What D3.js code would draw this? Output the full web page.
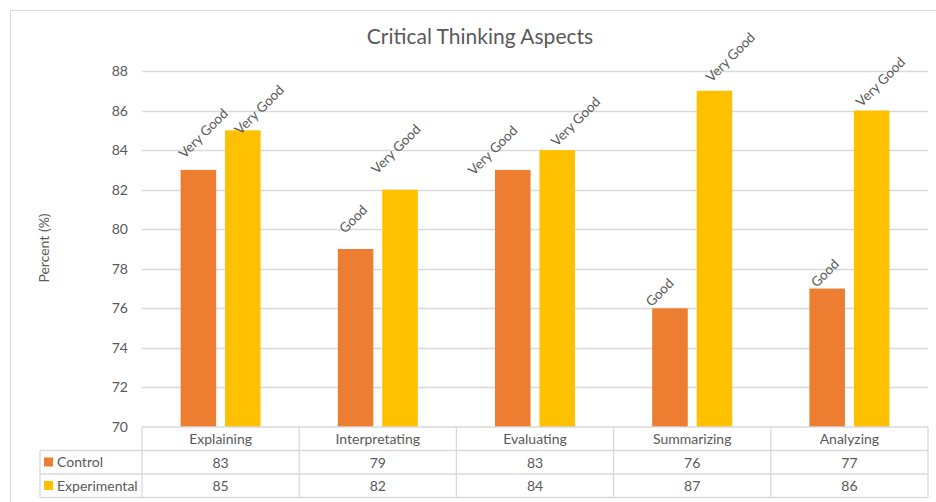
<!DOCTYPE html>
<html>
<head>
<meta charset="utf-8">
<script src="https://cdn.jsdelivr.net/npm/d3@7"></script>
<style>
  body { margin: 0; background: #fff; }
  text { font-family: Lato, "Open Sans", sans-serif; fill: #595959; }
</style>
</head>
<body>
<svg id="chart" width="936" height="502"></svg>
<script>
// data
const categories = ["Explaining", "Interpretating", "Evaluating", "Summarizing", "Analyzing"];
const series = ["Control", "Experimental"];
const control = [83, 79, 83, 76, 77];
const experimental = [85, 82, 84, 87, 86];
const controlLabels = ["Very Good", "Good", "Very Good", "Good", "Good"];
const experimentalLabels = ["Very Good", "Very Good", "Very Good", "Very Good", "Very Good"];
const yTicks = [70, 72, 74, 76, 78, 80, 82, 84, 86, 88];

// the labels were dragged by hand in the original, so each one has its own nudge
// [dx, dy] from the bar's top centre
const controlNudge = [[-14, -11], [-10.5, -15], [-39, 6], [-18.5, -1], [-10.5, -0.5]];
const experimentalNudge = [[-2.5, 5], [-23, -15], [-0.5, -3], [-3, -8], [-10, -3]];

const colors = {Control: "#ed7d31", Experimental: "#ffc000"};
const gridColor = "#d9d9d9";

const svg = d3.select("#chart");

// chart border
svg.append("rect")
    .attr("x", 10.5).attr("y", 10.5)
    .attr("width", 940).attr("height", 500)
    .attr("fill", "none")
    .attr("stroke", gridColor);

const plotLeft = 142, plotRight = 928, plotTop = 71, plotBottom = 427;

const x0 = d3.scaleBand().domain(categories).range([plotLeft, plotRight]).padding(0);
const groupW = 80;
const x1 = d3.scaleBand().domain(series).range([-groupW / 2, groupW / 2]).paddingInner(0.2);
const y = d3.scaleLinear().domain([70, 88]).range([plotBottom, plotTop]);

// title
svg.append("text")
    .attr("x", 480).attr("y", 44)
    .attr("text-anchor", "middle")
    .style("font-size", "21px")
    .text("Critical Thinking Aspects");

// y label
svg.append("text")
    .attr("transform", "translate(49,248) rotate(-90)")
    .attr("text-anchor", "middle")
    .style("font-size", "14px")
    .text("Percent (%)");

// gridlines
svg.append("g")
    .selectAll("line")
    .data(yTicks.slice(1))
    .join("line")
    .attr("x1", plotLeft).attr("x2", plotRight)
    .attr("y1", d => Math.round(y(d)) + 0.5)
    .attr("y2", d => Math.round(y(d)) + 0.5)
    .attr("stroke", gridColor)
    .attr("stroke-width", 1.3);

// y tick labels
svg.append("g")
    .selectAll("text")
    .data(yTicks)
    .join("text")
    .attr("x", 128)
    .attr("y", d => y(d) + 5)
    .attr("text-anchor", "end")
    .style("font-size", "14px")
    .text(d => d);

// bars
const rows = categories.map((c, i) => ({
    cat: c,
    vals: [
        {s: "Control", v: control[i], label: controlLabels[i], nudge: controlNudge[i]},
        {s: "Experimental", v: experimental[i], label: experimentalLabels[i], nudge: experimentalNudge[i]}
    ]
}));

const groups = svg.append("g")
    .selectAll("g")
    .data(rows)
    .join("g")
    .attr("transform", d => `translate(${x0(d.cat) + x0.bandwidth() / 2},0)`);

groups.selectAll("rect")
    .data(d => d.vals)
    .join("rect")
    .attr("x", d => x1(d.s))
    .attr("y", d => y(d.v))
    .attr("width", x1.bandwidth())
    .attr("height", d => y(70) - y(d.v))
    .attr("fill", d => colors[d.s]);

groups.selectAll("text")
    .data(d => d.vals)
    .join("text")
    .attr("transform", d => `translate(${x1(d.s) + x1.bandwidth() / 2 + d.nudge[0]},${y(d.v) + d.nudge[1]}) rotate(-45)`)
    .style("font-size", "13.5px")
    .text(d => d.label);

// data table
const rowTop = plotBottom, rowH = 23.5;
const table = svg.append("g")
    .attr("stroke", gridColor)
    .attr("stroke-width", 1.3)
    .attr("fill", "none");

// horizontal lines
table.append("line")
    .attr("x1", plotLeft).attr("x2", plotRight)
    .attr("y1", rowTop).attr("y2", rowTop);
[1, 2, 3].forEach(k => {
    table.append("line")
        .attr("x1", 40).attr("x2", plotRight)
        .attr("y1", rowTop + k * rowH).attr("y2", rowTop + k * rowH);
});
// vertical lines
table.append("line")
    .attr("x1", 40).attr("x2", 40)
    .attr("y1", rowTop + rowH).attr("y2", rowTop + 3 * rowH);
categories.forEach(c => {
    table.append("line")
        .attr("x1", x0(c)).attr("x2", x0(c))
        .attr("y1", rowTop).attr("y2", rowTop + 3 * rowH);
});
table.append("line")
    .attr("x1", plotRight).attr("x2", plotRight)
    .attr("y1", rowTop).attr("y2", rowTop + 3 * rowH);

// category names
svg.append("g")
    .selectAll("text")
    .data(categories)
    .join("text")
    .attr("x", d => x0(d) + x0.bandwidth() / 2)
    .attr("y", rowTop + 17)
    .attr("text-anchor", "middle")
    .style("font-size", "14px")
    .text(d => d);

// value rows
[control, experimental].forEach((vals, r) => {
    svg.append("g")
        .selectAll("text")
        .data(vals)
        .join("text")
        .attr("x", (d, i) => x0(categories[i]) + x0.bandwidth() / 2)
        .attr("y", rowTop + (r + 1) * rowH + 17)
        .attr("text-anchor", "middle")
        .style("font-size", "14px")
        .text(d => d);

    svg.append("rect")
        .attr("x", 44).attr("y", rowTop + (r + 1) * rowH + 7)
        .attr("width", 9).attr("height", 9)
        .attr("fill", colors[series[r]]);

    svg.append("text")
        .attr("x", 57)
        .attr("y", rowTop + (r + 1) * rowH + 16.5)
        .style("font-size", "14px")
        .text(series[r]);
});
</script>
</body>
</html>
